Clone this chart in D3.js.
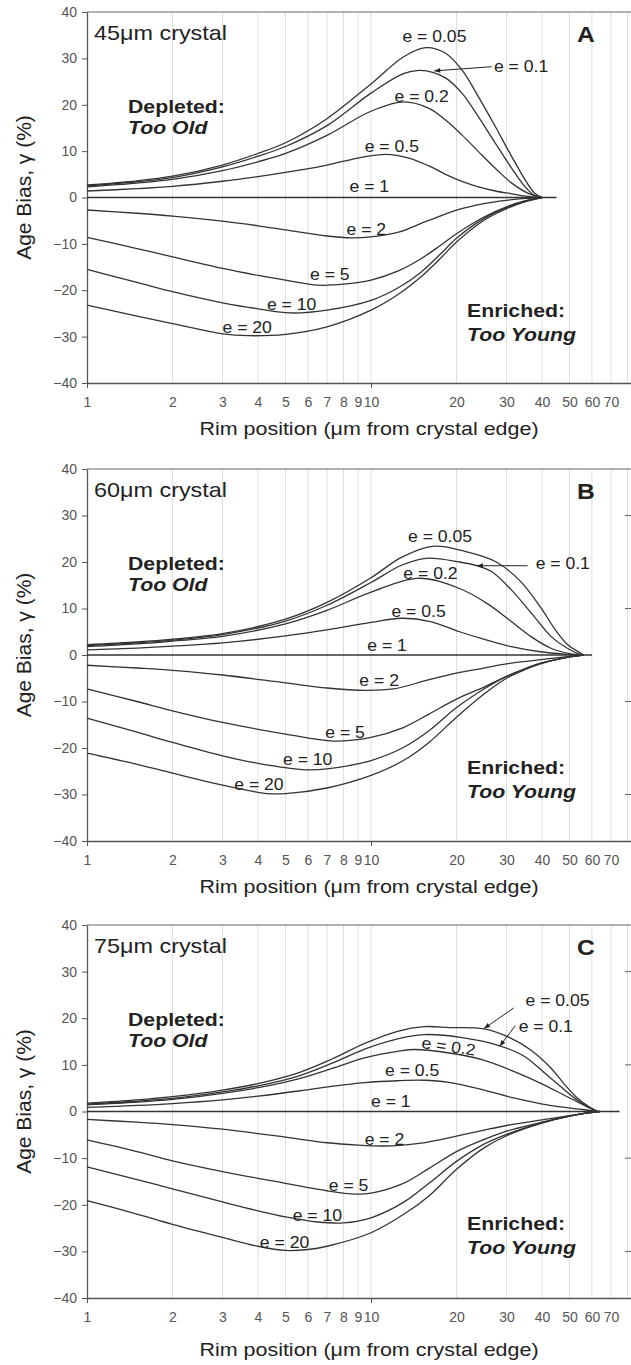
<!DOCTYPE html>
<html>
<head>
<meta charset="utf-8">
<script src="https://cdnjs.cloudflare.com/ajax/libs/d3/7.8.5/d3.min.js"></script>
<style>
  body { margin: 0; background: #fff; }
  svg { display: block; font-family: "Liberation Sans", Arial, sans-serif; }
</style>
</head>
<body>
<div id="chart"></div>
<script>
// ---- data ----
const eValues = ['0.05', '0.1', '0.2', '0.5', '1', '2', '5', '10', '20'];
const xTickLabels = [1, 2, 3, 4, 5, 6, 7, 8, 9, 10, 20, 30, 40, 50, 60, 70];
const xMajorTicks = [1, 10];
const gridValues = [2, 3, 4, 5, 6, 7, 8, 9, 10, 20, 30, 40, 50, 60, 70, 80, 90];
const yTicks = [40, 30, 20, 10, 0, -10, -20, -30, -40];
const rightTicks = [30, 10, -10, -30];

// 45 um crystal, one series per e value (x in um, y in %)
const curvesA = [
  [[1,2.7],[1.5,3.6],[2,4.6],[3,7.0],[4,9.5],[5,11.8],[7,17.0],[10,24.5],[13,30.3],[15.6,32.3],[18.3,31.1],[20.9,27.5],[23.9,21.7],[27.4,15.3],[31.3,8.8],[34.9,3.8],[37.7,0.9],[40,0]],
  [[1,2.5],[1.5,3.4],[2,4.3],[3,6.6],[4,8.9],[5,11.0],[7,15.5],[10,22.5],[13,26.7],[14.8,27.4],[16.5,27.0],[18.3,25.8],[20.9,22.5],[23.9,17.4],[27.4,11.7],[31.3,6.3],[34.9,2.3],[37.7,0.4],[40,0]],
  [[1,2.3],[1.5,3.1],[2,3.9],[3,5.8],[4,7.7],[5,9.5],[7,13.4],[10,18.6],[13.1,20.6],[16,19.2],[18.3,16.7],[20.9,13.5],[23.9,9.9],[27.4,6.3],[31.3,3.1],[35.8,0.9],[40,0]],
  [[1,1.4],[1.5,1.9],[2,2.4],[3,3.5],[4,4.5],[5,5.4],[7,7.0],[9,8.5],[11.3,9.3],[13.6,8.5],[16,6.8],[18.3,5.0],[20.9,3.5],[23.9,2.3],[27.4,1.4],[31.3,0.8],[35,0.3],[40,0]],
  [[1,0],[45,0]],
  [[1,-2.7],[1.5,-3.4],[2,-4.0],[3,-5.1],[4,-6.1],[5,-7.0],[7,-8.3],[8.5,-8.7],[10,-8.5],[12.6,-7.4],[15,-5.6],[17.5,-4.0],[20,-2.7],[25,-1.3],[30,-0.6],[35,-0.2],[40,0]],
  [[1,-8.6],[1.5,-11],[2,-12.8],[3,-15.3],[4,-16.8],[5,-17.8],[6.5,-18.9],[8,-18.7],[10,-17.8],[12.6,-15.7],[15,-13.2],[17.5,-10.4],[20,-7.8],[25,-4.2],[30,-2.0],[35,-0.7],[40,0]],
  [[1,-15.5],[1.5,-18.3],[2,-20.3],[3,-22.7],[4,-24.0],[5.2,-24.9],[7,-24.3],[10,-22.2],[12.6,-19.3],[15,-16.1],[17.5,-12.3],[20,-8.8],[25,-4.5],[30,-2.2],[35,-0.8],[40,0]],
  [[1,-23.2],[1.5,-25.6],[2,-27.2],[3,-29.4],[3.7,-29.8],[5,-29.5],[7,-27.9],[10,-24.3],[12.6,-20.7],[15,-17.1],[17.5,-13.2],[20,-9.6],[25,-4.9],[30,-2.4],[35,-0.9],[40,0]]
];

// 60 um crystal
const curvesB = [
  [[1,2.2],[1.5,2.8],[2,3.4],[3,4.6],[5,7.7],[7,11.3],[10,16.6],[12.8,21.0],[16.7,23.4],[21.7,22.2],[27.4,20.1],[33.3,16.1],[39.4,10.4],[44.6,5.4],[49.3,2.2],[54.7,0.4],[56,0]],
  [[1,2.0],[1.5,2.6],[2,3.2],[3,4.4],[5,7.3],[7,10.7],[10,15.6],[12.8,19.3],[15.6,20.8],[20.5,20.0],[23.6,19.2],[26.5,18.0],[31.2,14.0],[36.7,9.0],[43.2,3.9],[49.3,1.4],[54,0.2],[56,0]],
  [[1,1.8],[1.5,2.4],[2,3.0],[3,4.0],[5,6.7],[7,9.6],[10,13.5],[14.6,16.5],[20.5,14.3],[25.6,11.1],[31.2,7.2],[36.7,3.9],[43.2,1.4],[50,0.3],[56,0]],
  [[1,1.1],[1.5,1.5],[2,1.9],[3,2.6],[5,4.1],[7,5.4],[10,7.0],[12.8,7.9],[16.2,7.2],[20.5,5.0],[25.6,3.2],[31.2,1.8],[39.4,0.7],[48,0.2],[56,0]],
  [[1,0],[60,0]],
  [[1,-2.2],[1.5,-2.8],[2,-3.3],[3,-4.3],[5,-6.0],[7,-7.1],[9.5,-7.6],[12,-7.3],[15.8,-5.4],[20,-3.9],[25,-2.8],[30,-1.9],[41,-0.9],[50,-0.3],[56,0]],
  [[1,-7.3],[1.5,-10.0],[2,-12.0],[3,-14.5],[5,-17.0],[7.4,-18.5],[10,-17.7],[13,-15.6],[16,-12.7],[20,-9.5],[25,-6.9],[30,-4.6],[35,-2.9],[40,-1.7],[50,-0.4],[56,0]],
  [[1,-13.6],[1.5,-16.6],[2,-18.8],[3,-21.7],[4,-23.3],[5.9,-24.7],[7,-24.5],[10,-22.7],[13,-19.9],[16,-16.3],[20,-11.3],[25,-7.3],[30,-4.6],[35,-2.9],[40,-1.7],[50,-0.4],[56,0]],
  [[1,-21.1],[1.5,-23.5],[2,-25.4],[3,-28.0],[4.3,-29.8],[5,-29.8],[7,-28.6],[10,-25.9],[13,-22.7],[16,-18.8],[20,-13.4],[25,-8.4],[30,-5.0],[35,-3.1],[40,-1.8],[50,-0.4],[56,0]]
];

// 75 um crystal
const curvesC = [
  [[1,1.8],[1.5,2.5],[2,3.2],[3,4.6],[4,6.0],[5.55,8.3],[7.26,11.2],[9.5,14.6],[12.4,17.2],[15.4,18.2],[19,18.0],[25,17.7],[30.9,15.8],[36.3,13.3],[42.9,9.4],[47.6,6.1],[52.8,3.1],[58.6,1.0],[63,0]],
  [[1,1.6],[1.5,2.2],[2,2.8],[3,4.2],[4,5.5],[5.55,7.6],[7.26,10.3],[9.5,13.4],[12.4,15.6],[15.4,16.5],[21.2,15.8],[28.4,14.1],[34.5,11.9],[40.3,8.6],[46.4,5.4],[52.8,2.6],[58.6,0.8],[63,0]],
  [[1,1.4],[1.5,2.0],[2,2.6],[3,3.9],[4,5.1],[5.55,7.0],[7.26,9.2],[9.5,11.5],[12.4,12.9],[14.2,13.3],[18.6,12.6],[24.6,11.1],[31.8,8.6],[39.4,6.1],[47.6,3.6],[55.6,1.5],[63,0]],
  [[1,0.9],[1.5,1.3],[2,1.7],[3,2.5],[4,3.3],[5.55,4.4],[7.26,5.4],[9.5,6.2],[12.4,6.6],[15.4,6.7],[18.6,6.3],[24.6,4.7],[31.8,2.9],[41.7,1.4],[54.2,0.5],[63,0]],
  [[1,0],[75,0]],
  [[1,-1.7],[1.5,-2.3],[2,-2.8],[3,-3.8],[5,-5.5],[7,-6.7],[9,-7.2],[11,-7.4],[13,-7.2],[15,-6.8],[17,-6.2],[20,-5.3],[25,-4.0],[30,-3.0],[40,-1.8],[50,-0.9],[58,-0.3],[64,0]],
  [[1,-6.1],[1.5,-8.6],[2,-10.6],[3,-12.9],[5,-15.4],[7,-17.0],[8.8,-17.7],[10,-17.5],[13,-15.4],[16,-12.2],[20,-8.6],[25,-6.0],[30,-4.2],[40,-2.3],[50,-1.0],[58,-0.3],[64,0]],
  [[1,-11.9],[1.5,-14.6],[2,-16.6],[3,-19.4],[4,-21.3],[5,-22.6],[6.5,-23.7],[8,-23.9],[10,-22.8],[13,-19.5],[16,-15.4],[20,-10.7],[25,-7.0],[30,-4.9],[40,-2.4],[50,-1.0],[58,-0.3],[64,0]],
  [[1,-19.1],[1.5,-22.0],[2,-24.2],[3,-27.0],[4,-28.9],[5,-29.8],[6,-29.6],[7,-28.9],[10,-26.0],[13,-22.1],[16,-18.1],[20,-12.4],[25,-7.8],[30,-5.2],[40,-2.5],[50,-1.0],[58,-0.3],[64,0]]
];

// label anchors (start of text, baseline) in data units, same order as eValues
const labelsA = [[12.9,33.6],[27.1,27.1],[12.1,20.7],[9.5,9.9],[8.4,1.25],[8.2,-8.1],[6.1,-17.8],[4.3,-24.3],[3.0,-29.2]];
const labelsB = [[13.5,24.4],[38.0,18.5],[13.0,16.4],[11.8,8.2],[9.7,0.8],[9.1,-6.6],[6.9,-17.8],[4.9,-23.7],[3.3,-29.0]];
const labelsC = [[35.0,22.6],[33.1,17.1],[15.0,13.6],[11.2,7.6],[10.0,1.0],[9.5,-7.2],[7.1,-17.1],[5.3,-23.5],[4.06,-29.3]];

// leader arrows: [from, to]
const arrowsA = [[[26.6,28.2],[16.7,27.3]]];
const arrowsB = [[[35.6,19.2],[23.6,19.2]]];
const arrowsC = [[[31.8,22.2],[25.0,17.8]], [[32.2,18.4],[28.4,14.0]]];

const crystalNames = ['45\u03bcm crystal', '60\u03bcm crystal', '75\u03bcm crystal'];
const panelLetters = ['A', 'B', 'C'];

// ---- layout ----
const W = 631, H = 1365;
const SX = 1.12;   // the figure's lettering is a bit wide
const panels = [
  { top: 12,  bottom: 383,  titleGap: 52, curves: curvesA, labels: labelsA, arrows: arrowsA, rightMarks: false },
  { top: 469, bottom: 841,  titleGap: 52, curves: curvesB, labels: labelsB, arrows: arrowsB, rightMarks: true },
  { top: 925, bottom: 1298, titleGap: 58, curves: curvesC, labels: labelsC, arrows: arrowsC, rightMarks: true }
];

const svg = d3.select('#chart').append('svg')
  .attr('width', W)
  .attr('height', H);

svg.append('defs').append('marker')
  .attr('id', 'arrow')
  .attr('viewBox', '0 0 10 10')
  .attr('refX', 10)
  .attr('refY', 5)
  .attr('markerUnits', 'userSpaceOnUse')
  .attr('markerWidth', 8)
  .attr('markerHeight', 6)
  .attr('orient', 'auto')
  .append('path')
  .attr('d', 'M0,1 L10,5 L0,9 Z')
  .attr('fill', '#222');

const x = d3.scaleLog().domain([1, 100]).range([87, 655]);

function addText(g, str, px, py, size, opts) {
  opts = opts || {};
  const t = g.append('text')
    .attr('transform', 'translate(' + px + ',' + py + ')' + (opts.rotate ? ' rotate(' + opts.rotate + ')' : '') + ' scale(' + (opts.sx || SX) + ',1)')
    .attr('font-size', size + 'px')
    .attr('fill', opts.fill || '#222')
    .attr('text-anchor', opts.anchor || 'start')
    .text(str);
  if (opts.weight) t.attr('font-weight', opts.weight);
  if (opts.italic) t.attr('font-style', 'italic');
  return t;
}

panels.forEach((p, pi) => {
  const g = svg.append('g');
  const y = d3.scaleLinear().domain([-40, 40]).range([p.bottom, p.top]);

  // light vertical grid
  g.selectAll('line.grid')
    .data(gridValues)
    .enter()
    .append('line')
    .attr('class', 'grid')
    .attr('x1', d => x(d))
    .attr('x2', d => x(d))
    .attr('y1', y(40))
    .attr('y2', y(-40))
    .attr('stroke', '#dedede')
    .attr('stroke-width', 1);

  // top frame line
  g.append('line')
    .attr('x1', x(1)).attr('x2', W)
    .attr('y1', y(40)).attr('y2', y(40))
    .attr('stroke', '#666').attr('stroke-width', 1.2);

  if (p.rightMarks) {
    g.selectAll('line.rmark')
      .data(rightTicks)
      .enter()
      .append('line')
      .attr('x1', W - 6).attr('x2', W)
      .attr('y1', d => y(d)).attr('y2', d => y(d))
      .attr('stroke', '#666');
  }

  // y axis
  const yAxis = d3.axisLeft(y).tickValues(yTicks).tickSize(5).tickSizeOuter(0).tickPadding(5);
  const ya = g.append('g')
    .attr('transform', 'translate(' + x(1) + ',0)')
    .call(yAxis);
  ya.select('.domain').attr('stroke', '#555').attr('stroke-width', 1.3);
  ya.selectAll('.tick line').attr('stroke', '#555');
  ya.selectAll('.tick text')
    .attr('font-size', '14px')
    .attr('font-family', '"Liberation Sans", Arial, sans-serif')
    .attr('fill', '#555');

  // x axis: labels on every value, tick marks only at decades
  const xAxis = d3.axisBottom(x).tickValues(xTickLabels).tickSize(0).tickSizeOuter(0)
    .tickPadding(14).tickFormat(d3.format('d'));
  const xa = g.append('g')
    .attr('transform', 'translate(0,' + y(-40) + ')')
    .call(xAxis);
  xa.select('.domain').attr('stroke', '#555').attr('stroke-width', 1.3);
  xa.selectAll('.tick text')
    .attr('font-size', '14px')
    .attr('font-family', '"Liberation Sans", Arial, sans-serif')
    .attr('fill', '#555');
  const xMajor = d3.axisBottom(x).tickValues(xMajorTicks).tickSize(5).tickSizeOuter(0).tickFormat('');
  const xm = g.append('g')
    .attr('transform', 'translate(0,' + y(-40) + ')')
    .call(xMajor);
  xm.select('.domain').remove();
  xm.selectAll('.tick line').attr('stroke', '#555');

  // curves
  const line = d3.line()
    .x(d => x(d[0]))
    .y(d => y(d[1]))
    .curve(d3.curveCatmullRom.alpha(0.5));
  g.selectAll('path.curve')
    .data(p.curves)
    .enter()
    .append('path')
    .attr('class', 'curve')
    .attr('d', line)
    .attr('fill', 'none')
    .attr('stroke', '#333')
    .attr('stroke-width', 1.3);

  // curve labels
  p.labels.forEach((l, i) => {
    const rot = (pi === 2 && eValues[i] === '0.2') ? 8 : 0;
    addText(g, 'e = ' + eValues[i], x(l[0]), y(l[1]), 16, { rotate: rot, sx: 1.1 });
  });

  // leader arrows
  p.arrows.forEach(a => {
    g.append('line')
      .attr('x1', x(a[0][0])).attr('y1', y(a[0][1]))
      .attr('x2', x(a[1][0])).attr('y2', y(a[1][1]))
      .attr('stroke', '#222')
      .attr('stroke-width', 1)
      .attr('marker-end', 'url(#arrow)');
  });

  // annotations
  addText(g, crystalNames[pi], 94, p.top + 28, 20, { sx: 1.17 });
  addText(g, panelLetters[pi], 577, p.top + 30, 22, { weight: 'bold' });
  addText(g, 'Depleted:', 128, p.top + 101, 19, { weight: 'bold' });
  addText(g, 'Too Old', 128, p.top + 122, 19, { weight: 'bold', italic: true });
  addText(g, 'Enriched:', 467, p.top + 305, 19, { weight: 'bold' });
  addText(g, 'Too Young', 467, p.top + 329, 19, { weight: 'bold', italic: true });

  // axis titles
  addText(g, 'Rim position (\u03bcm from crystal edge)', 369, p.bottom + p.titleGap, 19, { anchor: 'middle', sx: 1.13 });
  g.append('text')
    .attr('transform', 'translate(31,' + ((p.top + p.bottom) / 2 - 10) + ') rotate(-90)')
    .attr('text-anchor', 'middle')
    .attr('font-size', '21px')
    .attr('fill', '#222')
    .text('Age Bias, \u03b3 (%)');
});
</script>
</body>
</html>
